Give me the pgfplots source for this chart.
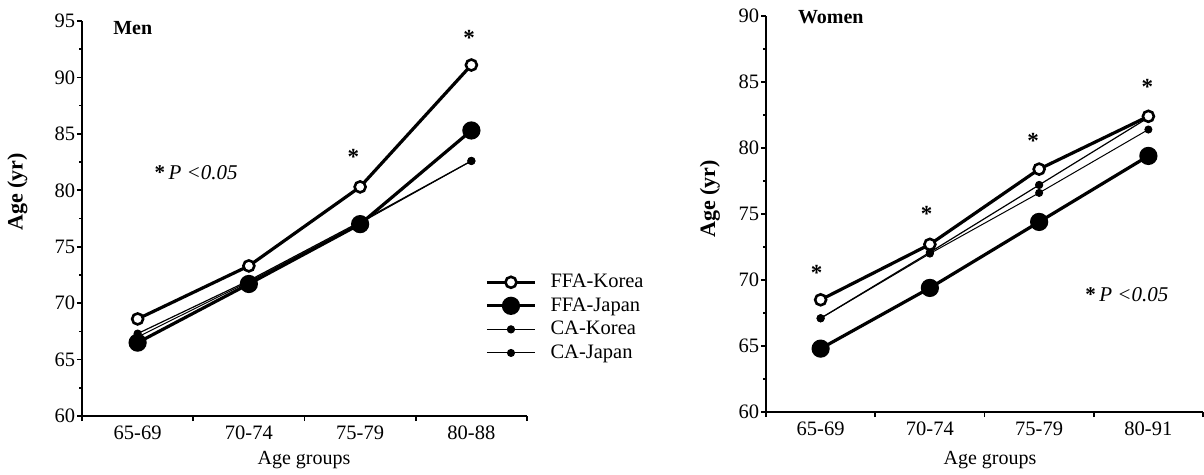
\documentclass[border=0pt]{standalone}
\usepackage{fontspec}
\setmainfont{Liberation Serif}
\usepackage{pgfplots}
\pgfplotsset{compat=1.18}
\pgfplotstableread{
x fk fj ck cj
0 68.6 66.5 67.3 67.0
1 73.3 71.7 72.0 71.9
2 80.3 77.0 77.2 77.1
3 91.1 85.3 82.6 82.6
}\men
\pgfplotstableread{
x fk fj ck cj
0 68.5 64.8 67.1 67.1
1 72.7 69.4 72.1 72.0
2 78.4 74.4 77.2 76.6
3 82.4 79.4 82.3 81.4
}\women
\tikzset{
 star/.style={font=\bfseries\fontsize{23}{24}\selectfont},
 ptext/.style={anchor=west, font=\fontsize{21}{22}\selectfont},
}
\begin{document}
\fontsize{20}{22}\selectfont
\begin{tikzpicture}
\path[use as bounding box] (0pt,0pt) rectangle (1204pt,474pt);
\pgfplotsset{
 myaxis/.style={
  scale only axis,
  xmin=-0.5, xmax=3.5,
  axis x line*=bottom, axis y line*=left,
  axis line style={line width=2pt},
  every tick/.style={line width=1.6pt, black},
  tick align=outside, major tick length=5pt, minor tick length=3pt,
  xtick={-0.5,0.5,1.5,2.5,3.5}, xticklabels={},
  extra x ticks={0,1,2,3},
  extra x tick style={major tick length=0pt},
  xticklabel style={yshift=-3pt},
  yticklabel style={xshift=5pt},
  ytick distance=5, minor y tick num=1,
  tick label style={font=\fontsize{20.5}{22}\selectfont},
  /pgf/number format/assume math mode=true,
  clip=false,
  legend cell align=left,
  legend image code/.code={\draw[mark repeat=2,mark phase=2,##1] plot coordinates {(0pt,0pt) (24pt,0pt) (48pt,0pt)};},
 },
 ffak/.style={black, line width=3.2pt, mark=*, mark size=5.5pt, mark options={fill=white, line width=2.6pt}},
 ffaj/.style={black, line width=3.2pt, mark=*, mark size=7.5pt, mark options={fill=black}},
 cak/.style={black, line width=1.2pt, mark=*, mark size=3.5pt},
 caj/.style={black, line width=1.0pt, mark=*, mark size=3.5pt},
}
\begin{axis}[myaxis, at={(82pt,58pt)}, anchor=south west, width=445pt, height=395pt,
  ymin=60, ymax=95,
  extra x tick labels={65-69,70-74,75-79,80-88},
  reverse legend,
  legend style={at={(0.906,0.365)}, anchor=north west, draw=none, fill=none, inner sep=0pt,
    font=\fontsize{20.5}{22}\selectfont, row sep=3pt,
    /tikz/every odd column/.append style={column sep=12pt}},
]
\addplot[caj] table[x=x,y=cj] {\men};
\addplot[cak] table[x=x,y=ck] {\men};
\addplot[ffaj] table[x=x,y=fj] {\men};
\addplot[ffak] table[x=x,y=fk] {\men};
\legend{CA-Japan,CA-Korea,FFA-Japan,FFA-Korea}
\node[anchor=west, font=\bfseries\fontsize{20}{22}\selectfont] at (axis cs:-0.28,94.4) {Men};
\node[ptext] at (axis cs:0.09,81.6) {\textbf{*}\,\textit{P} \textit{<0.05}};
\node[star] at (axis cs:1.94,83.0) {*};
\node[star] at (axis cs:2.98,93.5) {*};
\end{axis}
\node[rotate=90, font=\bfseries\fontsize{22}{24}\selectfont] at (17.5pt,282pt) {Age (yr)};
\node at (304pt,14pt) {Age groups};
\begin{axis}[myaxis, at={(766pt,62pt)}, anchor=south west, width=437pt, height=396pt,
  ymin=60, ymax=90,
  extra x tick labels={65-69,70-74,75-79,80-91},
]
\addplot[caj] table[x=x,y=cj] {\women};
\addplot[cak] table[x=x,y=ck] {\women};
\addplot[ffaj] table[x=x,y=fj] {\women};
\addplot[ffak] table[x=x,y=fk] {\women};
\node[anchor=west, font=\bfseries\fontsize{20}{22}\selectfont] at (axis cs:-0.27,89.9) {Women};
\node[ptext] at (axis cs:2.36,68.9) {\textbf{*}\,\textit{P} \textit{<0.05}};
\node[star] at (axis cs:-0.036,70.55) {*};
\node[star] at (axis cs:0.97,75.0) {*};
\node[star] at (axis cs:1.945,80.5) {*};
\node[star] at (axis cs:2.99,84.6) {*};
\end{axis}
\node[rotate=90, font=\bfseries\fontsize{22}{24}\selectfont] at (710pt,275pt) {Age (yr)};
\node at (990pt,14pt) {Age groups};
\end{tikzpicture}
\end{document}
